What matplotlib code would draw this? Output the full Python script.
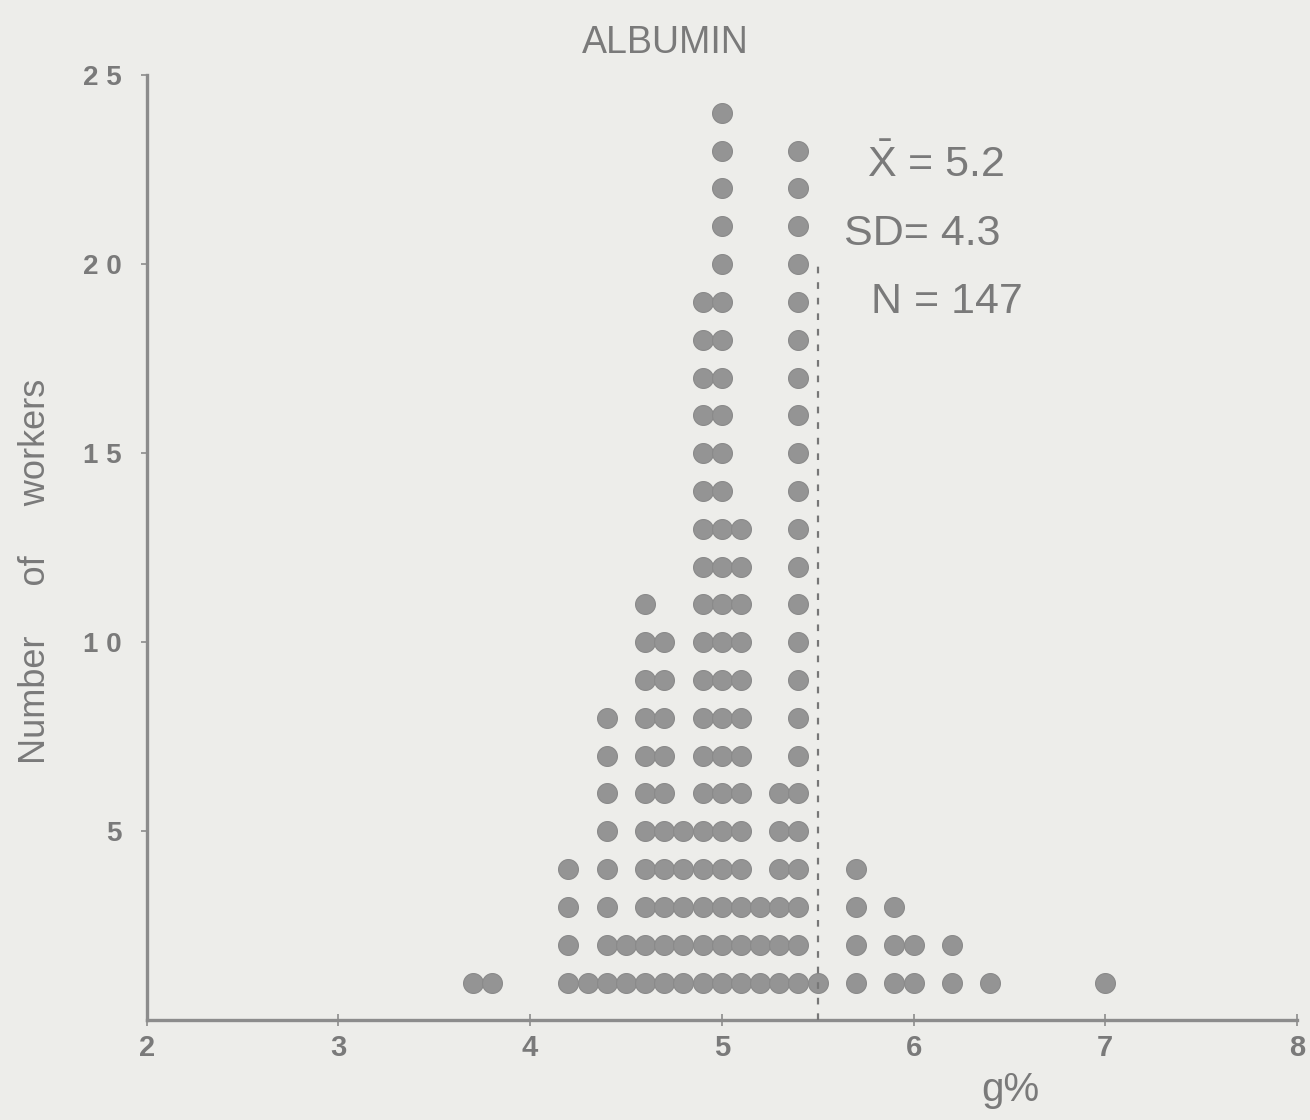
import matplotlib
matplotlib.use("Agg")
import matplotlib.pyplot as plt
import numpy as np

# --- DATA ---
albumin_values = [3.7, 3.8, 4.2, 4.3, 4.4, 4.5, 4.6, 4.7, 4.8, 4.9, 5.0,
                  5.1, 5.2, 5.3, 5.4, 5.5, 5.7, 5.9, 6.0, 6.2, 6.4, 7.0]
worker_counts = [1, 1, 4, 1, 8, 2, 11, 10, 5, 19, 24,
                 13, 3, 6, 23, 1, 4, 3, 2, 2, 1, 1]
x_ticks = [2, 3, 4, 5, 6, 7, 8]
y_ticks = [5, 10, 15, 20, 25]
y_tick_labels = ["5", "1 0", "1 5", "2 0", "2 5"]
cutoff = 5.5
cutoff_top = 20
stats_lines = [r"$\bar{\mathrm{X}}$ = 5.2", "SD= 4.3", "N = 147"]

# --- STYLE ---
paper = "#ededea"
ink = "#8c8c8c"
text_ink = "#7a7a7a"
plt.rcParams.update({
    "font.family": ["Liberation Sans", "DejaVu Sans"],
    "mathtext.fontset": "custom",
    "mathtext.rm": "Liberation Sans",
    "axes.edgecolor": ink,
    "xtick.color": ink,
    "ytick.color": ink,
})

fig = plt.figure(figsize=(13.1, 11.2), dpi=100, facecolor=paper)
ax = fig.add_axes([0.112, 0.089, 0.878, 0.844], facecolor=paper)

# stacked dots, one per worker
xs, ys = [], []
for v, c in zip(albumin_values, worker_counts):
    for k in range(1, c + 1):
        xs.append(v)
        ys.append(k)
ax.scatter(xs, ys, s=205, c="#949494", edgecolors="#8a8a8a",
           linewidths=0.8, zorder=3)

# dashed cut-off line
ax.vlines(cutoff, 0, cutoff_top, colors="#777777", linestyles=(0, (3, 4)),
          linewidth=1.6, zorder=4)

ax.set_xlim(2, 8)
ax.set_ylim(0, 25)
ax.spines["top"].set_visible(False)
ax.spines["right"].set_visible(False)
ax.spines["left"].set_linewidth(2.4)
ax.spines["bottom"].set_linewidth(2.4)

ax.set_xticks(x_ticks)
ax.set_xticklabels([str(t) for t in x_ticks], fontsize=21, color=text_ink,
                   fontweight="bold")
ax.set_yticks(y_ticks)
ax.set_yticklabels(y_tick_labels, fontsize=20, color=text_ink,
                   fontweight="bold")
ax.tick_params(axis="x", direction="inout", length=8, width=1.2, pad=6)
ax.tick_params(axis="y", direction="out", length=4, width=1.2, pad=14)

# labels
fig.text(0.508, 0.962, "ALBUMIN", ha="center", va="center", fontsize=27,
         color=text_ink)
fig.text(0.027, 0.49, "Number     of     workers", rotation=90, ha="center",
         va="center", fontsize=26, color=text_ink)
fig.text(0.771, 0.027, "g%", ha="center", va="center", fontsize=29,
         color=text_ink)

# summary statistics
stat_pos = [(5.76, 22.6), (5.64, 20.8), (5.78, 19.0)]
for (sx, sy), s in zip(stat_pos, stats_lines):
    ax.text(sx, sy, s, ha="left", va="center", fontsize=31, color=text_ink)

plt.savefig("out.png", dpi=100, facecolor=paper)
